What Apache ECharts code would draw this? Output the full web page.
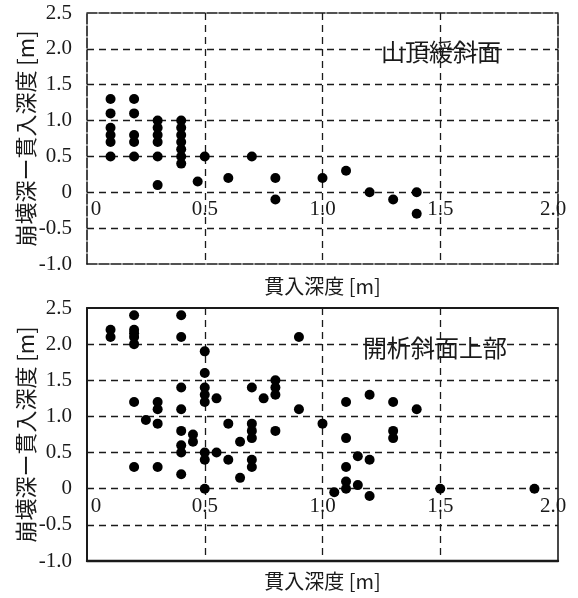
<!DOCTYPE html>
<html>
<head>
<meta charset="utf-8">
<script src="https://cdn.jsdelivr.net/npm/echarts@6/dist/echarts.min.js"></script>
<style>
html,body{margin:0;padding:0;background:#fff;}
#chart{width:578px;height:598px;}
</style>
</head>
<body>
<div id="chart"></div>
<script>
// ---- data ----
const upperTitle = '山頂緩斜面';
const lowerTitle = '開析斜面上部';
const xAxisName = '貫入深度 [m]';
const yAxisName = '崩壊深ー貫入深度 [m]';
const xTickLabels = ['0', '0.5', '1.0', '1.5', '2.0'];
const yTickLabels = ['-1.0', '-0.5', '0', '0.5', '1.0', '1.5', '2.0', '2.5'];
const xTickValues = [0, 0.5, 1.0, 1.5, 2.0];
const yTickValues = [-1.0, -0.5, 0, 0.5, 1.0, 1.5, 2.0, 2.5];

// [貫入深度, 崩壊深−貫入深度]
const upperPoints = [
  [0.1, 1.3], [0.1, 1.1], [0.1, 0.9], [0.1, 0.8], [0.1, 0.7], [0.1, 0.5],
  [0.2, 1.3], [0.2, 1.1], [0.2, 0.8], [0.2, 0.7], [0.2, 0.5],
  [0.3, 1.0], [0.3, 0.9], [0.3, 0.8], [0.3, 0.7], [0.3, 0.5], [0.3, 0.1],
  [0.4, 1.0], [0.4, 0.9], [0.4, 0.8], [0.4, 0.7], [0.4, 0.6], [0.4, 0.5], [0.4, 0.4],
  [0.47, 0.15], [0.5, 0.5], [0.6, 0.2], [0.7, 0.5],
  [0.8, 0.2], [0.8, -0.1], [1.0, 0.2], [1.1, 0.3],
  [1.2, 0.0], [1.3, -0.1], [1.4, 0.0], [1.4, -0.3]
];
const lowerPoints = [
  [0.1, 2.2], [0.1, 2.1],
  [0.2, 2.4], [0.2, 2.2], [0.2, 2.15], [0.2, 2.1], [0.2, 2.0], [0.2, 1.2], [0.2, 0.3],
  [0.25, 0.95],
  [0.3, 1.2], [0.3, 1.1], [0.3, 0.9], [0.3, 0.3],
  [0.4, 2.4], [0.4, 2.1], [0.4, 1.4], [0.4, 1.1], [0.4, 0.8], [0.4, 0.6], [0.4, 0.5], [0.4, 0.2],
  [0.45, 0.75], [0.45, 0.65],
  [0.5, 1.9], [0.5, 1.6], [0.5, 1.4], [0.5, 1.3], [0.5, 1.2], [0.5, 0.5], [0.5, 0.4], [0.5, 0.0],
  [0.55, 1.25], [0.55, 0.5],
  [0.6, 0.9], [0.6, 0.4],
  [0.65, 0.65], [0.65, 0.15],
  [0.7, 1.4], [0.7, 0.9], [0.7, 0.8], [0.7, 0.7], [0.7, 0.4], [0.7, 0.3],
  [0.75, 1.25],
  [0.8, 1.5], [0.8, 1.4], [0.8, 1.3], [0.8, 0.8],
  [0.9, 2.1], [0.9, 1.1],
  [1.0, 0.9],
  [1.05, -0.05],
  [1.1, 1.2], [1.1, 0.7], [1.1, 0.3], [1.1, 0.1], [1.1, 0.0],
  [1.15, 0.45], [1.15, 0.05],
  [1.2, 1.3], [1.2, 0.4], [1.2, -0.1],
  [1.3, 1.2], [1.3, 0.8], [1.3, 0.7],
  [1.4, 1.1],
  [1.5, 0.0],
  [1.9, 0.0]
];

// ---- chart ----
const ink = '#1a1a1a';
const numFont = '"Liberation Serif", "DejaVu Serif", serif';
const cjkFont = '"Noto Sans CJK JP", "Noto Sans", sans-serif';
const gridDash = { color: ink, width: 1.3, type: [7, 5] };

function tickLabel(values, labels, isX) {
  return function (v) {
    for (let i = 0; i < values.length; i++) {
      if (Math.abs(values[i] - v) < 1e-9) {
        if (isX && i === 0) return '{min|' + labels[i] + '}';
        if (isX && i === values.length - 1) return '{max|' + labels[i] + '}';
        return labels[i];
      }
    }
    return '';
  };
}

function axesFor(g, borderStyle, nameGapX) {
  const xs = [
    { // labelled axis, moved onto y = 0 after layout
      gridIndex: g, type: 'value', min: 0, max: 2, interval: 0.5, position: 'bottom', offset: 0,
      axisLine: { show: false, onZero: false },
      axisTick: { show: false },
      axisLabel: {
        show: true, margin: 7, color: ink, fontSize: 21, fontFamily: numFont,
        formatter: tickLabel(xTickValues, xTickLabels, true),
        rich: {
          min: { fontSize: 21, fontFamily: numFont, color: ink, padding: [0, 0, 0, 18] },
          max: { fontSize: 21, fontFamily: numFont, color: ink, padding: [0, 10, 0, 0] }
        }
      },
      splitLine: { show: true, showMinLine: false, showMaxLine: false, lineStyle: gridDash }
    },
    { // bottom border + name
      gridIndex: g, type: 'value', min: 0, max: 2, position: 'bottom',
      axisLine: { show: true, onZero: false, lineStyle: borderStyle.bottom },
      axisTick: { show: false }, axisLabel: { show: false }, splitLine: { show: false },
      name: xAxisName, nameLocation: 'middle', nameGap: nameGapX,
      nameTextStyle: { color: ink, fontSize: 20, fontFamily: cjkFont }
    },
    { // top border
      gridIndex: g, type: 'value', min: 0, max: 2, position: 'top',
      axisLine: { show: true, onZero: false, lineStyle: borderStyle.top },
      axisTick: { show: false }, axisLabel: { show: false }, splitLine: { show: false }
    }
  ];
  const ys = [
    {
      gridIndex: g, type: 'value', min: -1, max: 2.5, interval: 0.5, position: 'left',
      axisLine: { show: true, onZero: false, lineStyle: borderStyle.left },
      axisTick: { show: false },
      axisLabel: {
        show: true, margin: 15, color: ink, fontSize: 21, fontFamily: numFont,
        formatter: tickLabel(yTickValues, yTickLabels, false)
      },
      splitLine: { show: true, showMinLine: false, showMaxLine: false, lineStyle: gridDash },
      name: yAxisName, nameLocation: 'middle', nameGap: 50, nameRotate: 90, nameMoveOverlap: false,
      nameTextStyle: { color: ink, fontSize: 22, fontFamily: cjkFont }
    },
    {
      gridIndex: g, type: 'value', min: -1, max: 2.5, position: 'right',
      axisLine: { show: true, onZero: false, lineStyle: borderStyle.right },
      axisTick: { show: false }, axisLabel: { show: false }, splitLine: { show: false }
    }
  ];
  return { xs, ys };
}

const dashedBorder = { color: ink, width: 1.6, type: [10, 2] };
const topAxes = axesFor(0, { bottom: dashedBorder, top: dashedBorder, left: dashedBorder, right: dashedBorder }, 12);
const botAxes = axesFor(1, {
  bottom: { color: ink, width: 2.4 }, top: { color: ink, width: 1.8 },
  left: { color: ink, width: 2 }, right: { color: ink, width: 1.6 }
}, 10);

const chart = echarts.init(document.getElementById('chart'), null, { renderer: 'canvas' });
const xAxes = topAxes.xs.concat(botAxes.xs);
chart.setOption({
  backgroundColor: '#fff',
  animation: false,
  grid: [
    { left: 87, top: 13, width: 471, height: 251 },
    { left: 87, top: 308, width: 471, height: 253 }
  ],
  xAxis: xAxes,
  yAxis: topAxes.ys.concat(botAxes.ys),
  graphic: [
    { type: 'text', left: 381, top: 40, style: { text: upperTitle, fill: ink, font: '24px ' + cjkFont } },
    { type: 'text', left: 363, top: 336, style: { text: lowerTitle, fill: ink, font: '24px ' + cjkFont } }
  ],
  series: [
    { type: 'scatter', xAxisIndex: 0, yAxisIndex: 0, data: upperPoints, symbol: 'circle', symbolSize: 10, itemStyle: { color: '#000', opacity: 1 }, z: 5 },
    { type: 'scatter', xAxisIndex: 3, yAxisIndex: 2, data: lowerPoints, symbol: 'circle', symbolSize: 10, itemStyle: { color: '#000', opacity: 1 }, z: 5 }
  ]
});

// Move the labelled x axes onto the y = 0 line, using the library's own scale.
function zeroOffset(xi, yi) {
  const pZero = chart.convertToPixel({ xAxisIndex: xi, yAxisIndex: yi }, [0, 0]);
  const pMin = chart.convertToPixel({ xAxisIndex: xi, yAxisIndex: yi }, [0, -1]);
  return pZero[1] - pMin[1];
}
const off0 = zeroOffset(0, 0);
const off1 = zeroOffset(3, 2);
const xUpdate = xAxes.map(function () { return {}; });
xUpdate[0] = { offset: off0 };
xUpdate[3] = { offset: off1 };
chart.setOption({ xAxis: xUpdate });
</script>
</body>
</html>
